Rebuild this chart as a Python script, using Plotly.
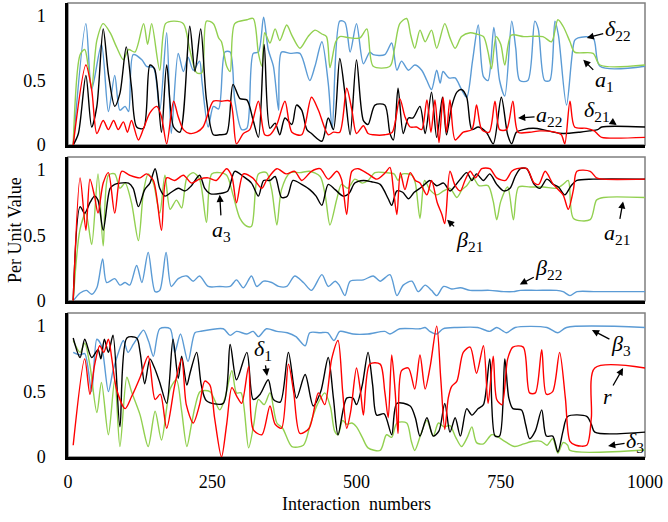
import plotly.graph_objects as go

# ---------------- data ----------------
p1_blue_x = [9,31,41,58,70,81,90,99,105,113,128,136,148,159,171,179,191,200,208,217,228,232,243,252,261,272,281,289,301,310,321,330,339,347,356,365,370,385,402,419,428,440,451,458,471,480,489,500,512,523,529,549,561,570,578,590,601,613,622,630,639,645,650,660,671,682,691,701,711,720,728,738,748,757,769,776,783,797,809,815,826,835,844,850,864,878,884,910,922,1000]
p1_blue_y = [0,0.94,0.43,0.78,0.26,0.54,0.27,0.30,0.26,0.70,0.66,0.61,0.60,0.27,0.87,0.09,0.71,0.57,0.68,0.58,0.65,0.50,0.14,0.30,0.28,0.72,0.72,0.35,0.12,0.13,0.71,0.72,0.99,0.74,0.61,0.27,0.72,0.71,0.71,0.50,0.61,0.80,0.48,0.13,0.96,0.95,0.72,0.94,0.63,0.72,0.70,0.70,0.79,0.58,0.65,0.58,0.62,0.58,0.50,0.43,0.58,0.48,0.57,0.52,0.52,0.43,0.37,0.65,0.93,0.53,0.50,0.91,0.50,0.38,0.96,0.75,0.50,0.50,0.96,0.90,0.50,0.50,0.96,0.85,0.31,0.81,0.83,0.83,0.61,0.61]

p1_green_x = [9,21,29,35,41,50,61,73,84,96,105,116,131,138,145,159,169,183,200,211,223,232,240,252,261,266,275,281,289,310,321,330,336,341,350,359,367,379,388,402,416,428,440,448,454,464,471,489,506,518,529,558,566,575,587,594,601,610,619,630,639,653,662,671,682,697,708,720,728,734,742,750,757,768,790,823,838,849,858,870,878,910,922,1000]
p1_green_y = [0,0.70,0.74,0.61,0.44,0.81,0.94,0.87,0.76,0.66,0.74,0.72,0.94,0.78,0.94,0.58,0.94,0.96,0.94,0.74,0.56,0.56,0.96,0.94,0.83,0.80,0.61,0.57,0.94,0.97,0.98,0.71,0.61,0.87,0.79,0.90,0.81,0.93,0.85,0.75,0.84,0.89,0.86,0.84,0.60,0.80,0.84,0.83,0.83,0.90,0.61,0.61,0.75,0.94,0.98,0.85,0.75,0.89,0.80,0.89,0.75,0.94,0.83,0.75,0.84,0.87,0.86,0.84,0.72,0.59,0.84,0.78,0.62,0.85,0.84,0.84,0.80,0.97,0.92,0.80,0.72,0.71,0.62,0.62]

p1_black_x = [9,18,31,41,50,61,70,81,90,101,110,119,131,142,150,162,171,183,194,211,220,230,240,252,263,275,286,298,310,321,330,340,350,359,367,376,388,396,405,414,422,440,451,460,471,480,489,500,512,520,532,549,558,564,572,581,590,598,610,619,630,639,649,656,665,674,682,691,700,711,725,737,751,762,769,777,789,806,823,841,858,887,904,918,925,1000]
p1_black_y = [0,0.09,0.54,0.14,0.30,0.90,0.55,0.30,0.40,0.76,0.45,0.14,0.13,0.62,0.59,0.10,0.62,0.14,0.10,0.92,0.57,0.90,0.35,0.08,0.08,0.09,0.47,0.36,0.35,0.19,0.06,0.78,0.13,0.17,0.08,0.21,0.16,0.31,0.27,0.12,0.09,0.03,0.21,0.12,0.67,0.40,0.08,0.66,0.19,0.16,0.31,0.31,0.09,0.04,0.44,0.09,0.21,0.21,0.30,0.09,0.41,0.06,0.37,0.08,0.30,0.41,0.43,0.37,0.12,0.14,0.10,0.01,0.37,0.08,0.01,0.10,0.12,0.13,0.12,0.10,0.09,0.10,0.11,0.12,0.14,0.14]

p1_red_x = [9,31,41,50,61,70,79,87,96,103,110,122,131,142,154,162,171,183,191,200,211,223,234,252,266,281,292,304,315,330,341,350,362,376,388,405,422,434,451,460,471,483,492,500,512,520,529,549,562,575,584,593,604,613,622,629,636,643,650,656,662,671,685,700,708,717,730,740,748,760,771,780,800,818,844,855,861,870,878,899,912,919,925,1000]
p1_red_y = [0,0.62,0.43,0.09,0.19,0.12,0.19,0.12,0.18,0.10,0.19,0.04,0.13,0.25,0.30,0.22,0.01,0.34,0.22,0.12,0.09,0.10,0.14,0.34,0.34,0.34,0.01,0.09,0.12,0.34,0.08,0.08,0.16,0.34,0.10,0.08,0.37,0.27,0.08,0.10,0.10,0.44,0.27,0.09,0.15,0.09,0.08,0.08,0.10,0.36,0.22,0.14,0.14,0.12,0.35,0.10,0.35,0.02,0.37,0.10,0.35,0.04,0.10,0.12,0.31,0.12,0.10,0.34,0.12,0.12,0.34,0.10,0.10,0.11,0.10,0.08,0.01,0.34,0.14,0.13,0.11,0.08,0.06,0.06]

p2_blue_x = [9,21,32,41,50,60,67,81,90,99,107,119,128,139,151,159,170,179,191,206,217,228,243,263,281,292,304,318,327,339,353,365,379,393,408,422,440,451,463,470,480,489,512,529,541,558,570,581,596,607,619,630,639,651,665,680,697,731,755,772,784,812,847,858,870,882,916,1000]
p2_blue_y = [0,0.06,0.08,0.05,0.10,0.32,0.14,0.17,0.12,0.14,0.12,0.27,0.14,0.37,0.07,0.08,0.37,0.11,0.17,0.19,0.15,0.19,0.11,0.11,0.11,0.16,0.10,0.19,0.11,0.15,0.14,0.11,0.11,0.19,0.14,0.08,0.20,0.11,0.15,0.12,0.04,0.15,0.16,0.19,0.15,0.20,0.04,0.12,0.15,0.07,0.12,0.08,0.04,0.11,0.09,0.10,0.08,0.08,0.07,0.07,0.08,0.08,0.08,0.07,0.04,0.07,0.07,0.07]

p2_red_x = [9,21,31,38,46,52,61,70,81,93,107,125,136,148,162,171,185,200,214,228,243,257,275,284,292,304,320,336,344,362,378,393,405,422,437,451,466,474,483,492,503,520,535,550,558,564,570,576,584,593,602,610,622,630,640,648,653,662,671,680,688,697,706,717,731,743,758,769,778,795,808,816,827,841,858,867,876,882,905,916,928,1000]
p2_red_y = [0,0.94,0.54,0.93,0.80,0.67,0.90,0.98,0.67,0.99,0.96,0.94,0.97,0.92,0.54,0.94,0.92,0.96,0.90,0.93,0.94,0.92,1.01,0.95,0.75,0.97,0.94,0.86,0.92,1.01,0.97,0.99,0.92,0.99,1.01,0.93,0.99,0.93,0.66,0.99,1.01,0.97,0.93,0.98,1.02,0.85,0.66,0.98,0.85,0.98,0.92,0.90,0.81,0.92,0.75,0.66,0.59,0.99,0.88,0.84,0.92,0.99,0.94,1.01,1.01,0.94,0.92,0.99,1.01,1.01,0.90,0.89,0.99,0.89,0.81,0.70,0.85,0.99,0.99,0.94,0.93,0.93]

p2_black_x = [9,21,29,38,46,52,61,73,81,90,105,113,122,133,142,151,159,168,179,191,203,214,228,237,246,263,277,289,304,318,330,339,350,359,370,380,390,405,419,430,440,451,463,477,487,497,512,526,541,555,561,570,580,590,600,610,618,627,639,651,662,671,680,691,700,708,720,731,743,755,766,775,784,795,808,818,830,841,850,861,872,882,910,1000]
p2_black_y = [0,0.72,0.67,0.75,0.80,0.77,0.54,0.86,0.89,0.90,0.90,0.86,0.72,0.85,0.90,1.01,0.86,0.80,0.83,0.86,0.84,0.88,0.96,0.86,0.82,0.82,0.84,0.99,0.95,0.90,0.80,0.92,0.92,0.95,0.79,0.80,0.92,0.89,0.85,0.80,0.73,0.89,0.85,0.80,0.82,0.90,0.92,0.91,0.89,0.78,0.73,0.84,0.83,0.78,0.83,0.86,0.89,0.92,0.88,0.90,0.84,0.88,0.93,0.98,0.92,0.97,0.92,0.97,0.89,0.84,0.86,0.95,1.01,1.01,0.89,0.86,0.93,0.89,0.87,0.81,0.88,0.92,0.93,0.93]

p2_green_x = [9,21,31,41,52,61,70,81,90,99,110,122,131,139,148,159,168,177,188,197,206,217,228,240,249,263,275,286,298,310,318,330,344,353,362,370,385,402,419,437,446,454,466,474,485,497,510,520,532,550,565,572,580,596,602,610,618,627,639,651,662,674,683,691,702,712,728,737,743,750,762,772,781,801,824,847,858,867,876,905,916,928,1000]
p2_green_y = [0,0.55,0.67,0.43,0.97,0.42,0.96,0.97,0.86,0.90,0.75,0.46,0.84,0.97,0.90,0.67,0.96,0.70,0.77,0.71,0.94,0.98,0.93,0.60,0.97,0.98,0.96,0.81,0.63,0.57,0.57,0.97,0.98,0.85,0.58,0.85,0.98,0.98,0.99,0.95,0.80,0.58,0.78,0.89,0.86,0.93,0.90,0.92,0.98,0.98,0.97,0.92,0.97,0.96,0.90,0.63,0.92,0.85,0.81,0.84,0.86,0.79,0.85,0.88,0.94,0.88,0.88,0.76,0.62,0.76,0.87,0.62,0.87,0.87,0.87,0.86,0.89,0.92,0.63,0.62,0.77,0.79,0.79]

p3_blue_x = [9,21,29,41,50,58,70,78,86,96,104,113,122,131,140,148,159,177,185,195,208,220,229,269,281,292,310,321,330,344,362,380,395,411,419,437,450,461,471,485,494,520,549,558,575,610,619,627,639,650,674,710,731,743,760,775,830,849,864,1000]
p3_blue_y = [0.80,0.78,0.79,0.50,0.90,0.85,0.50,0.66,0.78,0.89,0.80,0.86,0.92,0.97,0.88,0.77,0.98,0.98,0.80,0.94,0.73,0.95,0.96,0.98,0.93,0.96,0.94,0.96,0.92,0.98,0.96,0.95,0.92,0.85,0.95,0.95,0.95,0.89,0.96,0.95,0.94,0.94,0.96,0.94,0.98,0.98,0.99,0.96,0.94,0.98,0.99,0.99,0.96,0.99,0.95,0.99,0.99,0.95,0.99,0.99]

p3_red_x = [9,29,38,46,55,62,70,76,84,99,110,125,139,151,160,171,185,197,205,217,228,237,246,254,266,275,284,293,301,313,321,336,350,359,370,382,391,402,418,434,445,457,468,476,483,490,500,507,512,523,541,549,555,561,567,572,578,590,601,610,619,628,639,646,653,659,665,674,685,697,708,720,728,737,743,752,762,771,789,800,810,821,829,840,852,862,870,880,899,907,913,1000]
p3_red_y = [0.09,0.75,0.48,0.70,0.85,0.80,0.90,0.75,0.52,0.37,0.46,0.61,0.77,0.44,0.48,0.22,0.55,0.75,0.40,0.26,0.40,0.58,0.55,0.30,0.0,0.25,0.53,0.46,0.41,0.69,0.21,0.17,0.39,0.25,0.22,0.71,0.50,0.18,0.22,0.49,0.40,0.75,0.89,0.50,0.22,0.35,0.68,0.50,0.32,0.71,0.71,0.50,0.30,0.78,0.50,0.18,0.66,0.68,0.52,0.78,0.52,0.70,1.00,0.60,0.21,0.45,0.54,0.58,0.80,0.84,0.64,0.85,0.41,0.77,0.44,0.40,0.75,0.84,0.84,0.49,0.49,0.82,0.48,0.50,0.80,0.45,0.12,0.09,0.09,0.30,0.68,0.68]

p3_black_x = [9,21,29,41,52,57,63,70,78,90,102,119,125,133,142,150,159,171,182,191,197,206,212,223,231,240,269,281,292,310,321,333,347,356,368,382,396,411,425,438,451,460,468,483,494,500,510,520,528,535,548,561,570,593,602,610,622,633,643,653,662,671,680,691,700,711,720,731,740,748,757,764,771,786,793,800,810,821,829,840,849,858,866,899,907,913,1000]
p3_black_y = [0.91,0.76,0.90,0.76,0.82,0.75,0.90,0.80,0.93,0.23,0.91,0.91,0.80,0.56,0.75,0.68,0.57,0.41,0.90,0.60,0.77,0.55,0.65,0.80,0.55,0.43,0.41,0.86,0.59,0.80,0.44,0.48,0.59,0.44,0.42,0.80,0.45,0.63,0.39,0.50,0.76,0.45,0.17,0.45,0.45,0.40,0.55,0.80,0.55,0.32,0.33,0.17,0.41,0.39,0.30,0.16,0.30,0.16,0.20,0.41,0.19,0.30,0.16,0.37,0.32,0.37,0.40,0.75,0.16,0.16,0.75,0.45,0.37,0.36,0.25,0.14,0.20,0.36,0.16,0.16,0.04,0.20,0.31,0.31,0.25,0.19,0.19]

p3_green_x = [9,21,29,38,50,58,70,81,90,102,110,125,139,151,162,177,188,197,206,214,220,229,246,263,272,284,292,300,313,322,330,340,350,362,372,388,408,420,432,445,455,462,468,476,483,492,500,510,520,541,552,561,570,587,595,601,612,622,633,642,652,662,672,682,692,700,708,720,734,743,757,774,790,806,820,830,840,849,858,866,870,1000]
p3_green_y = [0.89,0.80,0.87,0.70,0.34,0.57,0.17,0.59,0.08,0.61,0.50,0.32,0.08,0.35,0.13,0.52,0.59,0.35,0.08,0.25,0.38,0.50,0.50,0.36,0.45,0.66,0.49,0.49,0.07,0.25,0.44,0.40,0.49,0.26,0.22,0.08,0.09,0.25,0.40,0.49,0.38,0.20,0.17,0.28,0.25,0.26,0.23,0.15,0.07,0.05,0.17,0.15,0.26,0.26,0.12,0.05,0.18,0.28,0.16,0.26,0.23,0.24,0.15,0.08,0.15,0.23,0.11,0.10,0.17,0.16,0.12,0.08,0.10,0.12,0.12,0.09,0.14,0.03,0.11,0.09,0.05,0.054]

x_tick_vals = [0, 250, 500, 750, 1000]
y_tick_vals = [0, 0.5, 1]
y_tick_text = ["0", "0.5", "1"]

# labels: (panel, text, head x, head y, text offset px dx, dy)
labels = [
    (1, "<i>δ</i><sub>22</sub>", 899, 0.83, 31, -8),
    (1, "<i>a</i><sub>1</sub>", 893, 0.66, 21, 21),
    (1, "<i>a</i><sub>22</sub>", 780, 0.21, 31, -2),
    (1, "<i>δ</i><sub>21</sub>", 951, 0.155, -20, -14),
    (2, "<i>a</i><sub>3</sub>", 263, 0.81, 2, 36),
    (2, "<i>β</i><sub>21</sub>", 657, 0.62, 22, 21),
    (2, "<i>a</i><sub>21</sub>", 962, 0.76, -6, 33),
    (2, "<i>β</i><sub>22</sub>", 783, 0.125, 29, -15),
    (3, "<i>δ</i><sub>1</sub>", 345, 0.62, -4, -26),
    (3, "<i>β</i><sub>3</sub>", 908, 0.97, 29, 15),
    (3, "<i>r</i>", 962, 0.68, -16, 28),
    (3, "<i>δ</i><sub>3</sub>", 936, 0.085, 27, -4),
]

# ---------------- figure ----------------
BLUE = "#5B9BD5"
GREEN = "#92D050"
RED = "#FF0000"
BLACK = "#000000"
FONT = "Liberation Serif"

series = [
    (1, p1_blue_x, p1_blue_y, BLUE), (1, p1_green_x, p1_green_y, GREEN),
    (1, p1_black_x, p1_black_y, BLACK), (1, p1_red_x, p1_red_y, RED),
    (2, p2_blue_x, p2_blue_y, BLUE), (2, p2_green_x, p2_green_y, GREEN),
    (2, p2_black_x, p2_black_y, BLACK), (2, p2_red_x, p2_red_y, RED),
    (3, p3_blue_x, p3_blue_y, BLUE), (3, p3_green_x, p3_green_y, GREEN),
    (3, p3_black_x, p3_black_y, BLACK), (3, p3_red_x, p3_red_y, RED),
]

fig = go.Figure()
for panel, xs, ys, col in series:
    sfx = "" if panel == 1 else str(panel)
    fig.add_trace(go.Scatter(
        x=xs, y=ys, mode="lines", xaxis="x" + sfx, yaxis="y" + sfx,
        line=dict(color=col, width=1.4, shape="spline", smoothing=0.8),
        showlegend=False, hoverinfo="skip"))

domains = {1: [0.687, 1.0], 2: [0.344, 0.661], 3: [0.0, 0.317]}
layout = dict(
    width=668, height=522,
    margin=dict(l=68, r=23, t=3, b=65),
    paper_bgcolor="white", plot_bgcolor="white",
    font=dict(family=FONT, size=18, color="black"),
    showlegend=False,
)
for p in (1, 2, 3):
    sfx = "" if p == 1 else str(p)
    layout["xaxis" + sfx] = dict(
        domain=[0, 1], range=[0, 1000], anchor="y" + sfx,
        showgrid=False, zeroline=False,
        showline=True, linecolor="black", linewidth=2.5,
        tickvals=x_tick_vals, showticklabels=(p == 3),
        ticks="outside" if p == 3 else "", ticklen=7, tickcolor="rgba(0,0,0,0)",
        tickfont=dict(family=FONT, size=18, color="black"),
    )
    layout["yaxis" + sfx] = dict(
        domain=domains[p], range=[0, 1.1], anchor="x" + sfx,
        showgrid=False, zeroline=False,
        showline=True, linecolor="black", linewidth=2.5,
        tickvals=y_tick_vals, ticktext=y_tick_text,
        ticks="outside", ticklen=16, tickcolor="rgba(0,0,0,0)",
        tickfont=dict(family=FONT, size=18, color="black"),
    )
layout["xaxis3"]["title"] = dict(text="Interaction\u00a0 numbers", font=dict(family=FONT, size=18, color="black"), standoff=7)
fig.update_layout(**layout)

for p in (1, 2, 3):
    sfx = "" if p == 1 else str(p)
    fig.add_shape(type="rect", xref="x" + sfx + " domain", yref="y" + sfx + " domain",
                  x0=0, x1=1, y0=0, y1=1, line=dict(color="#7F7F7F", width=1.5),
                  fillcolor="rgba(0,0,0,0)", layer="below")

for panel, txt, hx, hy, dx, dy in labels:
    sfx = "" if panel == 1 else str(panel)
    fig.add_annotation(x=hx, y=hy, xref="x" + sfx, yref="y" + sfx,
                       text=txt, showarrow=True, ax=dx, ay=dy,
                       arrowhead=2, arrowsize=1.1, arrowwidth=1.3, arrowcolor="black",
                       standoff=0, font=dict(family=FONT, size=22, color="black"))

fig.add_annotation(x=-0.092, y=0.5, xref="paper", yref="paper", text="Per Unit Value",
                   textangle=-90, showarrow=False, font=dict(family=FONT, size=18, color="black"),
                   xanchor="center", yanchor="middle")

fig.write_html("out.html")
